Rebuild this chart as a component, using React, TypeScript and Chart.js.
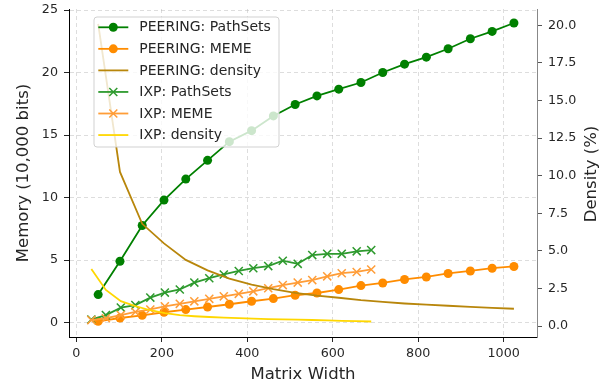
import React, { useEffect, useRef } from 'react';
import { Chart, registerables } from 'chart.js';

Chart.register(...registerables);

// ---------- data ----------
const seriesLabels = [
  'PEERING: PathSets',
  'PEERING: MEME',
  'PEERING: density',
  'IXP: PathSets',
  'IXP: MEME',
  'IXP: density',
];

const peeringWidths = [51, 102, 154, 205, 256, 307, 358, 410, 461, 512, 563, 614, 666, 717, 768, 819, 870, 922, 973, 1024];
const peeringPathSets = [2.24, 4.91, 7.77, 9.8, 11.48, 12.98, 14.47, 15.35, 16.53, 17.44, 18.13, 18.67, 19.2, 20.0, 20.67, 21.23, 21.9, 22.7, 23.29, 23.96];
const peeringMeme = [0.1, 0.37, 0.58, 0.83, 1.04, 1.25, 1.47, 1.71, 1.92, 2.19, 2.37, 2.64, 2.96, 3.17, 3.45, 3.65, 3.93, 4.13, 4.35, 4.49];
const peeringDensity = [20.1, 10.25, 6.8, 5.5, 4.4, 3.7, 3.15, 2.75, 2.45, 2.2, 2.02, 1.88, 1.72, 1.6, 1.5, 1.43, 1.35, 1.27, 1.21, 1.15];

const ixpWidths = [35, 69, 104, 138, 173, 207, 242, 276, 311, 345, 380, 414, 449, 483, 518, 552, 587, 621, 656, 690];
const ixpPathSets = [0.24, 0.6, 1.2, 1.4, 2.0, 2.4, 2.65, 3.2, 3.55, 3.85, 4.13, 4.35, 4.52, 4.95, 4.7, 5.4, 5.5, 5.5, 5.7, 5.8];
const ixpMeme = [0.2, 0.35, 0.6, 0.85, 1.05, 1.3, 1.5, 1.7, 1.9, 2.1, 2.3, 2.5, 2.75, 3.0, 3.2, 3.4, 3.7, 3.95, 4.05, 4.25];
const ixpDensity = [3.8, 2.4, 1.65, 1.33, 1.05, 0.86, 0.72, 0.65, 0.6, 0.56, 0.52, 0.49, 0.46, 0.44, 0.42, 0.4, 0.37, 0.34, 0.32, 0.3];

const xTickValues = [0, 200, 400, 600, 800, 1000];
const leftTickValues = [0, 5, 10, 15, 20, 25];
const rightTickValues = [0, 2.5, 5, 7.5, 10, 12.5, 15, 17.5, 20];

const xTitle = 'Matrix Width';
const leftTitle = 'Memory (10,000 bits)';
const rightTitle = 'Density (%)';

// ---------- styling ----------
const FONT = '"DejaVu Sans", "Liberation Sans", sans-serif';
const TEXT = '#262626';
const GRID = 'rgba(176,176,176,0.55)';

const C_GREEN = '#008000';
const C_ORANGE = '#ff8c00';
const C_BROWN = '#b8860b';
const C_GREEN2 = '#2e9a2e';
const C_ORANGE2 = '#ff9d38';
const C_GOLD = '#ffd700';

const pts = (xs: number[], ys: number[]) => xs.map((x, i) => ({ x, y: ys[i] }));

const legendPlugin = {
  id: 'mplLegend',
  afterDraw(chart: any) {
    const ctx = chart.ctx as CanvasRenderingContext2D;
    const ca = chart.chartArea;
    const x0 = ca.left + 25;
    const y0 = ca.top + 8;
    const w = 185;
    const h = 130;
    const r = 3;
    ctx.save();
    ctx.beginPath();
    ctx.moveTo(x0 + r, y0);
    ctx.lineTo(x0 + w - r, y0);
    ctx.quadraticCurveTo(x0 + w, y0, x0 + w, y0 + r);
    ctx.lineTo(x0 + w, y0 + h - r);
    ctx.quadraticCurveTo(x0 + w, y0 + h, x0 + w - r, y0 + h);
    ctx.lineTo(x0 + r, y0 + h);
    ctx.quadraticCurveTo(x0, y0 + h, x0, y0 + h - r);
    ctx.lineTo(x0, y0 + r);
    ctx.quadraticCurveTo(x0, y0, x0 + r, y0);
    ctx.closePath();
    ctx.fillStyle = 'rgba(255,255,255,0.8)';
    ctx.fill();
    ctx.strokeStyle = 'rgba(204,204,204,0.9)';
    ctx.lineWidth = 1;
    ctx.stroke();

    chart.data.datasets.forEach((ds: any, i: number) => {
      const cy = y0 + 10.3 + i * 21.55;
      const lx1 = x0 + 4.3;
      const lx2 = x0 + 34.3;
      const mx = (lx1 + lx2) / 2;
      ctx.strokeStyle = ds.borderColor;
      ctx.lineWidth = ds.borderWidth;
      ctx.beginPath();
      ctx.moveTo(lx1, cy);
      ctx.lineTo(lx2, cy);
      ctx.stroke();
      if (ds.pointRadius > 0) {
        if (ds.pointStyle === 'circle') {
          ctx.fillStyle = ds.backgroundColor;
          ctx.beginPath();
          ctx.arc(mx, cy, ds.pointRadius, 0, Math.PI * 2);
          ctx.fill();
        } else {
          const d = 4;
          ctx.lineWidth = ds.pointBorderWidth;
          ctx.beginPath();
          ctx.moveTo(mx - d, cy - d);
          ctx.lineTo(mx + d, cy + d);
          ctx.moveTo(mx - d, cy + d);
          ctx.lineTo(mx + d, cy - d);
          ctx.stroke();
        }
      }
      ctx.fillStyle = TEXT;
      ctx.font = `14px ${FONT}`;
      ctx.textAlign = 'left';
      ctx.textBaseline = 'middle';
      ctx.fillText(ds.label, x0 + 45.3, cy + 0.5);
    });

    // right axis title, reading bottom-to-top like matplotlib
    ctx.save();
    ctx.translate(chart.width - 21.6, (ca.top + ca.bottom) / 2 + 1);
    ctx.rotate(-Math.PI / 2);
    ctx.font = `16.5px ${FONT}`;
    ctx.fillStyle = TEXT;
    ctx.textAlign = 'center';
    ctx.textBaseline = 'middle';
    ctx.fillText(rightTitle, 0, 0);
    ctx.restore();

    ctx.restore();
  },
};

export default function App() {
  const ref = useRef<HTMLCanvasElement>(null);

  useEffect(() => {
    if (!ref.current) return;
    Chart.defaults.font.family = FONT;
    const circle = (color: string, order: number, label: string, xs: number[], ys: number[]) => ({
      label,
      data: pts(xs, ys),
      borderColor: color,
      backgroundColor: color,
      borderWidth: 1.8,
      pointStyle: 'circle',
      pointRadius: 4.5,
      pointBorderWidth: 0,
      pointHoverRadius: 4.5,
      tension: 0,
      yAxisID: 'y',
      order,
    });
    const cross = (color: string, order: number, label: string, xs: number[], ys: number[]) => ({
      label,
      data: pts(xs, ys),
      borderColor: color,
      backgroundColor: color,
      borderWidth: 1.8,
      pointStyle: 'crossRot',
      pointRadius: 5.7,
      pointBorderWidth: 1.5,
      pointHoverRadius: 5.7,
      tension: 0,
      yAxisID: 'y',
      order,
    });
    const plain = (color: string, order: number, label: string, xs: number[], ys: number[]) => ({
      label,
      data: pts(xs, ys),
      borderColor: color,
      backgroundColor: color,
      borderWidth: 1.8,
      pointRadius: 0,
      pointHoverRadius: 0,
      tension: 0,
      yAxisID: 'y2',
      order,
    });

    const chart = new Chart(ref.current, {
      type: 'line',
      data: {
        datasets: [
          circle(C_GREEN, 6, seriesLabels[0], peeringWidths, peeringPathSets),
          circle(C_ORANGE, 5, seriesLabels[1], peeringWidths, peeringMeme),
          plain(C_BROWN, 2, seriesLabels[2], peeringWidths, peeringDensity),
          cross(C_GREEN2, 4, seriesLabels[3], ixpWidths, ixpPathSets),
          cross(C_ORANGE2, 3, seriesLabels[4], ixpWidths, ixpMeme),
          plain(C_GOLD, 1, seriesLabels[5], ixpWidths, ixpDensity),
        ] as any,
      },
      options: {
        responsive: false,
        devicePixelRatio: 1,
        animation: false,
        events: [],
        layout: { padding: { top: 9, left: 0, right: 0, bottom: 0 } },
        plugins: {
          legend: { display: false },
          tooltip: { enabled: false },
        },
        scales: {
          x: {
            type: 'linear',
            position: 'bottom',
            min: -17.3,
            max: 1078,
            afterBuildTicks: (s: any) => {
              s.ticks = xTickValues.map((v) => ({ value: v }));
            },
            afterFit: (s: any) => {
              s.height = 49;
              s.paddingLeft = 0;
              s.paddingRight = 0;
            },
            ticks: {
              callback: (v: any) => String(v),
              font: { size: 12.7 },
              color: TEXT,
              padding: 4,
              maxRotation: 0,
              autoSkip: false,
            },
            grid: { color: GRID, lineWidth: 0.8, tickLength: 5, tickColor: TEXT, tickWidth: 1 },
            border: { color: '#000', width: 1, dash: [4, 3] },
            title: { display: true, text: xTitle, font: { size: 16.5 }, color: TEXT, padding: { top: 0, bottom: 1 } },
          },
          y: {
            type: 'linear',
            position: 'left',
            min: -1.15,
            max: 25.08,
            afterBuildTicks: (s: any) => {
              s.ticks = leftTickValues.map((v) => ({ value: v }));
            },
            afterFit: (s: any) => {
              s.width = 69;
              s.paddingTop = 0;
              s.paddingBottom = 0;
            },
            ticks: {
              callback: (v: any) => String(v),
              font: { size: 12.7 },
              color: TEXT,
              padding: 6,
              autoSkip: false,
            },
            grid: { color: GRID, lineWidth: 0.8, tickLength: 5, tickColor: TEXT, tickWidth: 1 },
            border: { color: '#000', width: 1, dash: [4, 3] },
            title: { display: true, text: leftTitle, font: { size: 16.5 }, color: TEXT, padding: { top: 13.8, bottom: 0 } },
          },
          y2: {
            type: 'linear',
            position: 'right',
            min: -0.73,
            max: 21.09,
            afterBuildTicks: (s: any) => {
              s.ticks = rightTickValues.map((v) => ({ value: v }));
            },
            afterFit: (s: any) => {
              s.width = 76;
              s.paddingTop = 0;
              s.paddingBottom = 0;
            },
            ticks: {
              callback: (v: any) => Number(v).toFixed(1),
              font: { size: 12.7 },
              color: TEXT,
              padding: 6,
              autoSkip: false,
            },
            grid: { drawOnChartArea: false, tickLength: 5, tickColor: '#555', tickWidth: 1 },
            border: { color: '#888', width: 1 },
          },
        },
      } as any,
      plugins: [legendPlugin],
    });
    return () => chart.destroy();
  }, []);

  return (
    <div style={{ position: 'fixed', left: 0, top: 0, width: 613, height: 386, background: '#fff' }}>
      <canvas ref={ref} width={613} height={386} style={{ display: 'block', width: 613, height: 386 }} />
    </div>
  );
}
